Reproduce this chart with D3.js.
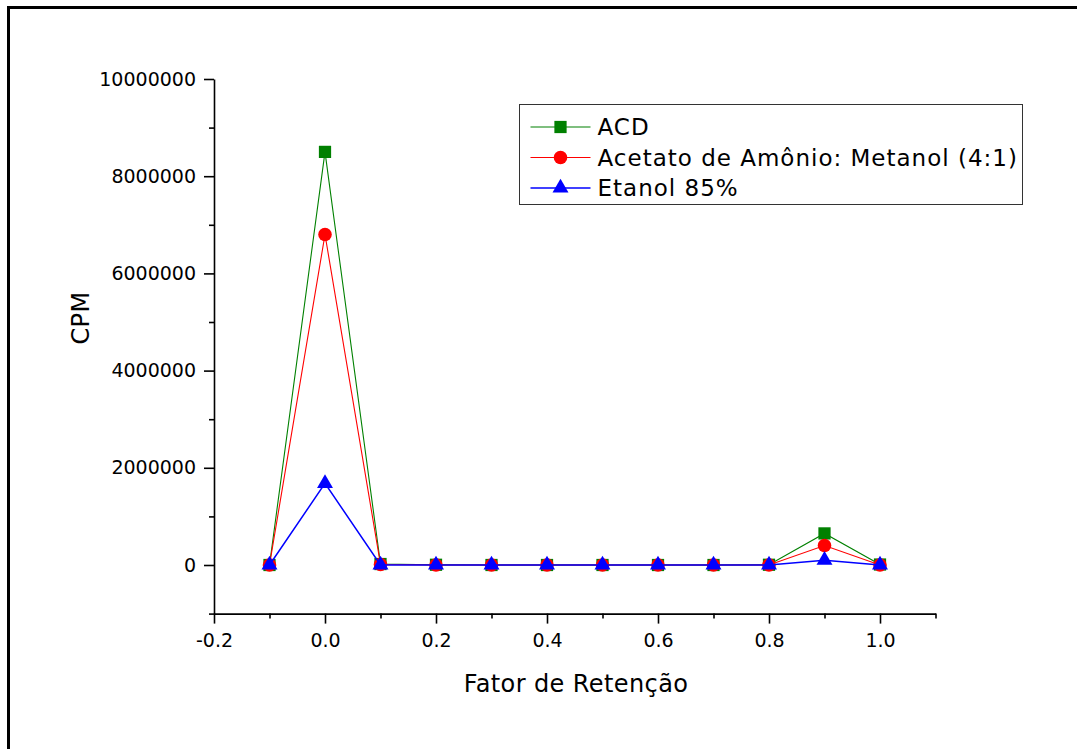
<!DOCTYPE html>
<html>
<head>
<meta charset="utf-8">
<script src="https://cdn.jsdelivr.net/npm/d3@7"></script>
<style>
    body { margin: 0; background: #fff; }
    svg { display: block; font-family: "DejaVu Sans", Verdana, sans-serif; }
    .axis path, .axis line { stroke: #000; stroke-width: 1.6; }
    .axis text { font-size: 19px; fill: #000; font-family: "DejaVu Sans", Verdana, sans-serif; }
</style>
</head>
<body>
<div id="chart"></div>
<script>
// retention factor positions
const rf = [-0.1, 0.0, 0.1, 0.2, 0.3, 0.4, 0.5, 0.6, 0.7, 0.8, 0.9, 1.0];

// CPM per solvent system
const acd      = [0, 8500000, 20000, 5000, 0, 0, 0, 0, 0, 5000, 650000, 10000];
const acetato  = [0, 6800000, 10000, 0, 0, 0, 0, 0, 0, 0, 400000, 0];
const etanol   = [0, 1680000, 0, 0, 0, 0, 0, 0, 0, 0, 100000, 0];

const seriesNames = ['ACD', 'Acetato de Amônio: Metanol (4:1)', 'Etanol 85%'];

const xMajor = [-0.2, 0.0, 0.2, 0.4, 0.6, 0.8, 1.0];
const xMinor = [-0.1, 0.1, 0.3, 0.5, 0.7, 0.9, 1.1];
const yMajor = [0, 2000000, 4000000, 6000000, 8000000, 10000000];
const yMinor = [-1000000, 1000000, 3000000, 5000000, 7000000, 9000000];

const width = 1077, height = 749;

const svg = d3.select('#chart').append('svg')
    .attr('width', width)
    .attr('height', height);

// page frame (left and top edges)
svg.append('path')
    .attr('d', `M8.5,${height} L8.5,7.5 L${width},7.5`)
    .attr('fill', 'none')
    .attr('stroke', '#000')
    .attr('stroke-width', 3);

const x = d3.scaleLinear().domain([-0.2, 1.1]).range([214, 935.5]);
const y = d3.scaleLinear().domain([-1000000, 10000000]).range([613.6, 79]);

// plain hyphen for negatives, like the original
const fmtX = d => d3.format('.1f')(d).replace('\u2212', '-');

// x axis
svg.append('g')
    .attr('class', 'axis')
    .attr('transform', `translate(0,${y(-1000000)})`)
    .call(d3.axisBottom(x).tickValues(xMajor).tickSize(10).tickSizeOuter(0)
        .tickPadding(10).tickFormat(fmtX));

svg.append('g')
    .attr('class', 'axis')
    .attr('transform', `translate(0,${y(-1000000)})`)
    .call(d3.axisBottom(x).tickValues(xMinor).tickSize(5).tickSizeOuter(0).tickFormat(''))
    .select('.domain').remove();

// y axis
svg.append('g')
    .attr('class', 'axis')
    .attr('transform', `translate(${x(-0.2)},0)`)
    .call(d3.axisLeft(y).tickValues(yMajor).tickSize(10).tickSizeOuter(0)
        .tickPadding(8).tickFormat(d => String(d)));

svg.append('g')
    .attr('class', 'axis')
    .attr('transform', `translate(${x(-0.2)},0)`)
    .call(d3.axisLeft(y).tickValues(yMinor).tickSize(5).tickSizeOuter(0).tickFormat(''))
    .select('.domain').remove();

// axis titles
svg.append('text')
    .attr('x', 576)
    .attr('y', 692)
    .attr('text-anchor', 'middle')
    .attr('font-size', '24px')
    .attr('letter-spacing', '0.4px')
    .text('Fator de Retenção');

svg.append('text')
    .attr('transform', 'translate(89,318) rotate(-90)')
    .attr('text-anchor', 'middle')
    .attr('font-size', '24px')
    .attr('letter-spacing', '0.4px')
    .text('CPM');

const series = [
    { name: seriesNames[0], values: acd, color: '#008000', width: 1.1, symbol: d3.symbolSquare, size: 150 },
    { name: seriesNames[1], values: acetato, color: '#ff0000', width: 1.1, symbol: d3.symbolCircle, size: 145 },
    { name: seriesNames[2], values: etanol, color: '#0000ff', width: 1.5, symbol: d3.symbolTriangle, size: 110 }
];

const line = d3.line()
    .x(d => x(d[0]))
    .y(d => y(d[1]));

series.forEach(s => {
    const pts = rf.map((r, i) => [r, s.values[i]]);
    const g = svg.append('g');
    g.append('path')
        .attr('d', line(pts))
        .attr('fill', 'none')
        .attr('stroke', s.color)
        .attr('stroke-width', s.width);
    g.selectAll('path.pt')
        .data(pts)
        .enter().append('path')
        .attr('class', 'pt')
        .attr('transform', d => `translate(${x(d[0])},${y(d[1])})`)
        .attr('d', d3.symbol().type(s.symbol).size(s.size))
        .attr('fill', s.color);
});

// legend
const legend = svg.append('g').attr('transform', 'translate(519.5,104.5)');
legend.append('rect')
    .attr('width', 503)
    .attr('height', 100)
    .attr('fill', '#fff')
    .attr('stroke', '#333')
    .attr('stroke-width', 1);

series.forEach((s, i) => {
    const row = legend.append('g').attr('transform', `translate(0,${22.5 + i * 30.5})`);
    row.append('line')
        .attr('x1', 11).attr('x2', 71)
        .attr('stroke', s.color)
        .attr('stroke-width', s.width);
    row.append('path')
        .attr('transform', 'translate(41,0)')
        .attr('d', d3.symbol().type(s.symbol).size(s.size))
        .attr('fill', s.color);
    row.append('text')
        .attr('x', 78)
        .attr('dy', '0.36em')
        .attr('font-size', '23px')
        .attr('letter-spacing', '1px')
        .text(s.name);
});
</script>
</body>
</html>
